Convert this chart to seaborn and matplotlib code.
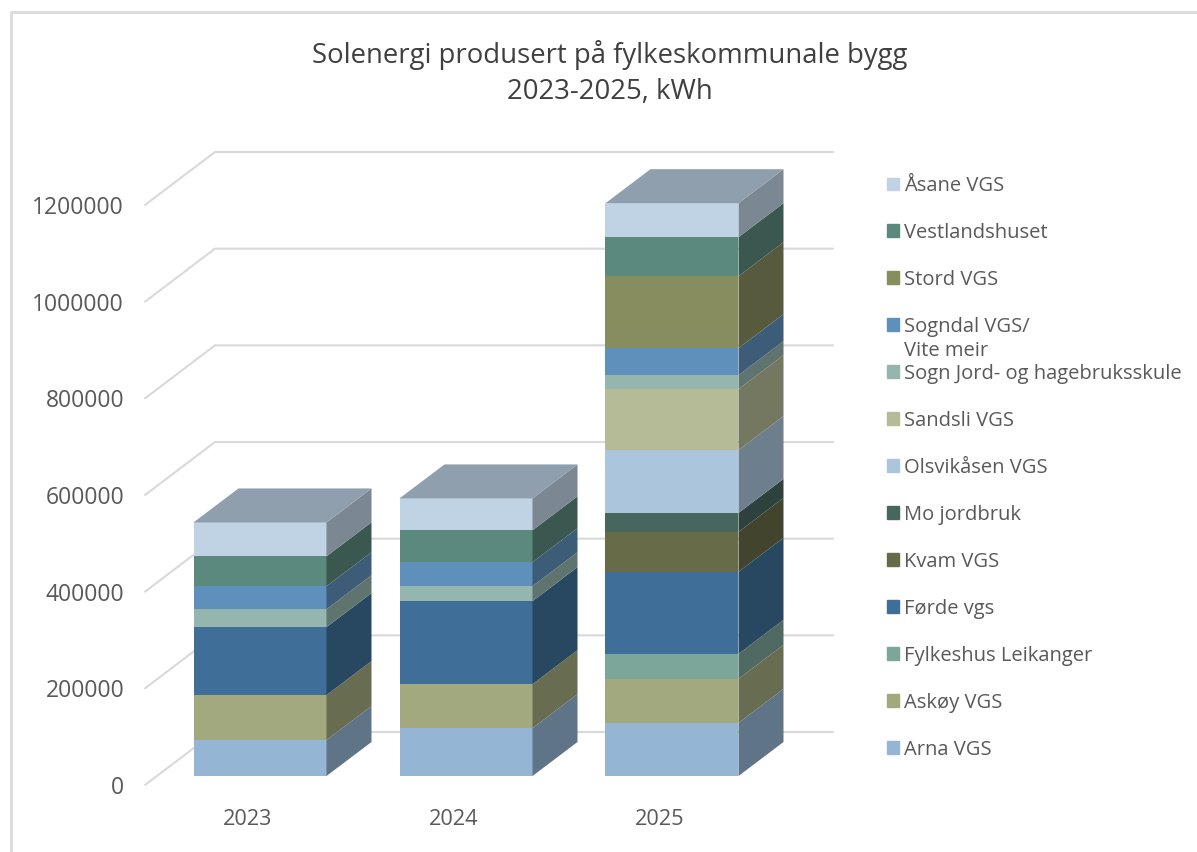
import numpy as np
import pandas as pd
import seaborn as sns
import matplotlib.pyplot as plt
from matplotlib.patches import Patch
from matplotlib.colors import to_rgb

years = ["2023", "2024", "2025"]
schools = ["Arna VGS", "Askøy VGS", "Fylkeshus Leikanger", "Førde vgs", "Kvam VGS", "Mo jordbruk",
           "Olsvikåsen VGS", "Sandsli VGS", "Sogn Jord- og hagebruksskule", "Sogndal VGS/",
           "Stord VGS", "Vestlandshuset", "Åsane VGS"]
colors = ["#94B5D3", "#A3A97F", "#7DA69B", "#3F6F98", "#676B47", "#47675E",
          "#AAC5DC", "#B6BB97", "#94B6AE", "#5F90BC", "#888D5F", "#5C897D", "#C0D3E5"]

arna = [74500, 99000, 110000]
askoy = [93000, 91000, 91000]
leikanger = [0, 0, 51700]
forde = [140600, 171700, 169600]
kvam = [0, 0, 82700]
mo = [0, 0, 39300]
olsvik = [0, 0, 130000]
sandsli = [0, 0, 126000]
sogn_jord = [37000, 31000, 29000]
sogndal = [47500, 49600, 55800]
stord = [0, 0, 149000]
vestland = [62000, 66000, 80700]
asane = [70000, 66000, 70300]
values = [arna, askoy, leikanger, forde, kvam, mo, olsvik, sandsli, sogn_jord, sogndal, stord, vestland, asane]

y_ticks = [0, 200000, 400000, 600000, 800000, 1000000, 1200000]

W, H = 1197, 852
PLANE_W, PLANE_H = 618, 580
BAR_W = 133 / 206
TEXT = "#595959"
GRID = "#D9D9D9"

sns.set_theme(style="white")
plt.rcParams["font.family"] = ["Open Sans", "DejaVu Sans"]

fig = plt.figure(figsize=(W / 100, H / 100), dpi=100, facecolor="white")


def px_axes(left, bottom_y):
    return fig.add_axes([left / W, 1 - bottom_y / H, PLANE_W / W, PLANE_H / H])


# front plane: ticks and the wall lines, bars sit a bit further in
ax_front = px_axes(145, 785)
ax = px_axes(157, 776)
for a in (ax_front, ax):
    a.set_xlim(-0.5, 2.5)
    a.set_ylim(0, 1200000)
ux = 1 / (PLANE_W / 3)
uy = 1200000 / PLANE_H

ax_front.set_xticks(range(3), years)
ax_front.set_yticks(y_ticks, [str(v) for v in y_ticks])
ax_front.tick_params(axis="y", length=0, pad=15, labelsize=16.5, labelcolor=TEXT)
ax_front.tick_params(axis="x", length=0, pad=17, labelsize=15.6, labelcolor=TEXT)
sns.despine(ax=ax_front, left=True, bottom=True)
for v in y_ticks:
    x0, x1 = -0.5, -0.5 + 70 * ux
    y1 = v + 53 * uy
    ax_front.plot([x0, x1, 2.5 + 70 * ux], [v, y1, y1], color=GRID, lw=1.5, clip_on=False,
                  solid_joinstyle="miter")

# front faces, tallest cumulative first so lower segments paint over
totals = np.cumsum(np.array(values, dtype=float), axis=0)
df = pd.DataFrame(totals.T, columns=schools)
df["year"] = years
for i in range(len(schools) - 1, -1, -1):
    sns.barplot(data=df, x="year", y=schools[i], color=colors[i], saturation=1, width=BAR_W,
                linewidth=0, ax=ax)
ax.set_xlim(-0.5, 2.5)
ax.set_ylim(0, 1200000)
ax.axis("off")

# side and top faces
dx = 45 * ux
dy = 34 * uy
for j in range(3):
    right = j + BAR_W / 2
    left = j - BAR_W / 2
    lower = 0.0
    for i in range(len(schools)):
        upper = totals[i, j]
        if upper > lower:
            side = tuple(c * 0.64 for c in to_rgb(colors[i]))
            ax.fill([right, right + dx, right + dx, right],
                    [lower, lower + dy, upper + dy, upper],
                    color=side, lw=0, clip_on=False)
        lower = upper
    ax.fill([left, left + dx, right + dx, right], [lower, lower + dy, lower + dy, lower],
            color="#8F9FAD", lw=0, clip_on=False)

handles = [Patch(color=c, label=s) for c, s in zip(colors, schools)][::-1]
leg = fig.legend(handles=handles, loc="upper left", bbox_to_anchor=(887 / W, 1 - 176 / H),
                 frameon=False, fontsize=14.5, labelcolor=TEXT, borderpad=0, borderaxespad=0,
                 labelspacing=1.34, handlelength=0.6, handleheight=0.6, handletextpad=0.25)
fig.text(904 / W, 1 - 351 / H, "Vite meir", fontsize=14.5, color=TEXT, va="center")

fig.text(610 / W, 1 - 73 / H, "Solenergi produsert på fylkeskommunale bygg\n2023-2025, kWh",
         fontsize=19.8, color="#404040", ha="center", va="center", linespacing=1.4)

# chart area frame, the screenshot cuts it off right and below
fig.add_artist(plt.Line2D([10.5 / W, 10.5 / W, 1], [0, 1 - 11.5 / H, 1 - 11.5 / H],
                          color="#DDDDDD", lw=2.2, transform=fig.transFigure))

fig.savefig("out.png", dpi=100)
